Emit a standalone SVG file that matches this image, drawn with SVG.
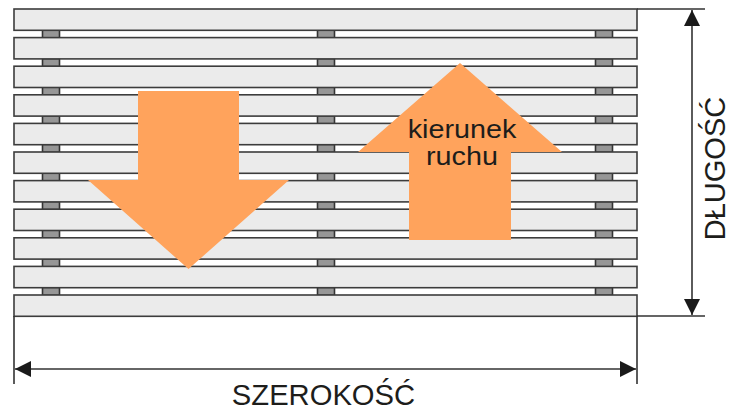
<svg xmlns="http://www.w3.org/2000/svg" width="737" height="410" viewBox="0 0 737 410">
<style>
.s{fill:#ebebeb;stroke:#3c3c3c;stroke-width:1.6}
.c{fill:#969696;stroke:#333;stroke-width:1.6}
.l{fill:none;stroke:#333;stroke-width:1.6}
.a{fill:#ffa35c}
text{font-family:"Liberation Sans",Arial,sans-serif;fill:#1d1d1b}
</style>
<defs>
<marker id="h" markerUnits="userSpaceOnUse" markerWidth="16" markerHeight="16" refX="16" refY="8" orient="auto-start-reverse"><path d="M0 0L16 8L0 16Z" fill="#1a1a1a"/></marker>
<g id="cc"><rect class="c" x="42.5" y="0" width="17" height="8"/><rect class="c" x="317.500" y="0" width="17" height="8"/><rect class="c" x="595.500" y="0" width="17" height="8"/></g>
</defs>
<g id="spacers">
<use href="#cc" y="30"/><use href="#cc" y="58.6"/><use href="#cc" y="87.2"/><use href="#cc" y="115.8"/><use href="#cc" y="144.4"/><use href="#cc" y="173"/><use href="#cc" y="201.6"/><use href="#cc" y="230.2"/><use href="#cc" y="258.8"/><use href="#cc" y="287.4"/>
</g>
<g id="slats">
<rect class="s" x="14" y="9" width="623" height="21.3"/>
<rect class="s" x="14" y="37.6" width="623" height="21.3"/>
<rect class="s" x="14" y="66.2" width="623" height="21.3"/>
<rect class="s" x="14" y="94.8" width="623" height="21.3"/>
<rect class="s" x="14" y="123.4" width="623" height="21.3"/>
<rect class="s" x="14" y="152" width="623" height="21.3"/>
<rect class="s" x="14" y="180.6" width="623" height="21.3"/>
<rect class="s" x="14" y="209.2" width="623" height="21.3"/>
<rect class="s" x="14" y="237.8" width="623" height="21.3"/>
<rect class="s" x="14" y="266.4" width="623" height="21.3"/>
<rect class="s" x="14" y="295" width="623" height="21.3"/>
</g>
<g id="arrow-down"><path class="a" d="M138 91H239V180H289L188.500 269L88 180H138Z"/></g>
<g id="arrow-up"><path class="a" d="M460 63L562 152H511V240H409V152H358Z"/>
<text transform="translate(462 137.700) scale(1.15 1)" font-size="25" text-anchor="middle">kierunek</text>
<text transform="translate(462 165) scale(1.15 1)" font-size="25" text-anchor="middle">ruchu</text></g>
<g id="connectors">
<path class="l" d="M637 9H705M637 316H705M14 316V384M637 316V384"/>
<path class="l" d="M692 10V315" marker-start="url(#h)" marker-end="url(#h)"/>
<path class="l" d="M15 369H636" marker-start="url(#h)" marker-end="url(#h)"/>
</g>
<g id="labels">
<text x="323.500" y="405" font-size="29.200" text-anchor="middle">SZEROKOŚĆ</text>
<text transform="translate(725 168.500) rotate(-90)" font-size="29" text-anchor="middle">DŁUGOŚĆ</text>
</g>
</svg>
